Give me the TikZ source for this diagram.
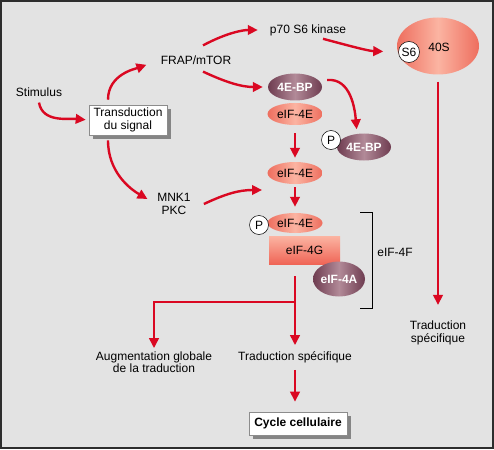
\documentclass[tikz,border=0pt]{standalone}
\usepackage{fontspec}
\setmainfont{Liberation Sans}
\usepackage{tikz}
\usetikzlibrary{positioning,shapes.geometric,arrows.meta,shadows}
\definecolor{bgG}{RGB}{227,227,227}
\definecolor{frameG}{RGB}{45,45,45}
\definecolor{arR}{RGB}{218,8,34}
\definecolor{salD}{RGB}{238,110,94}
\definecolor{salL}{RGB}{251,180,162}
\definecolor{plD}{RGB}{110,60,80}
\definecolor{plL}{RGB}{178,138,152}
\newcommand\lblfont{\fontsize{12}{12.5}\selectfont}

\begin{document}
\begin{tikzpicture}[x=1pt,y=1pt,
   lbl/.style={font=\lblfont,align=center,inner sep=1pt},
   arr/.style={arR,line width=2.4pt,-{Triangle[length=10pt,width=9.5pt]}},
   sbox/.style={lbl,draw=black!45,line width=0.6pt,fill=white,inner sep=3pt,
      drop shadow={shadow xshift=4pt,shadow yshift=-4pt,fill=black!48,opacity=1}},
   salm/.style={ellipse,lbl,inner sep=0pt,minimum width=55pt,minimum height=22pt,
      left color=salD,right color=salD,middle color=salL},
   plum/.style={ellipse,lbl,inner sep=0pt,minimum width=54pt,minimum height=27pt,
      left color=plD,right color=plD,middle color=plL,text=white,font=\lblfont\bfseries},
   pcirc/.style={circle,draw,line width=0.5pt,fill=white,lbl,inner sep=0pt,minimum size=19pt}]
\useasboundingbox (0,0) rectangle (494,-449);
\fill[bgG] (0,0) rectangle (494,-449);
\draw[frameG,line width=2pt] (1,-1) rectangle (493,-448);

%% ---- signal side ----
\node[lbl] (stim) at (39,-92) {Stimulus};
\node[sbox,minimum width=78pt,minimum height=30pt] (trans) at (128,-120) {Transduction\\du signal};
\node[lbl] (frap) at (196,-60) {FRAP/mTOR};
\node[lbl] (mnk) at (174,-204) {MNK1\\PKC};
\node[lbl] (p70) at (308,-30) {p70 S6 kinase};

%% ---- 40S ----
\node[ellipse,minimum width=82pt,minimum height=57pt,inner sep=0pt,
      left color=salD,right color=salD,middle color=salL] (ribo) at (438,-46) {};
\node[lbl] (r40) at (439,-47) {40S};
\node[pcirc,minimum size=21pt] (s6) at (409,-52) {S6};

%% ---- 4E-BP / eIF-4E ----
\node[plum] (bpa) at (295,-87) {4E-BP};
\node[salm] (e4a) at (295,-114) {eIF-4E};
\node[plum] (bpb) at (364,-147) {4E-BP};
\node[pcirc] (pa) at (331,-140) {P};
\node[salm] (e4b) at (295,-173) {eIF-4E};

%% ---- eIF-4F complex ----
\node[salm,minimum height=20pt] (e4c) at (295,-223) {eIF-4E};
\node[pcirc] (pb) at (259,-225) {P};
\node[lbl,minimum width=71pt,minimum height=28pt,inner sep=0pt,
      top color=salL,bottom color=salD!92!red] (g4) at (304.5,-250) {eIF-4G};
\node[plum,minimum width=52pt,minimum height=35pt] (a4) at (339,-279) {eIF-4A};
\draw[line width=0.9pt] (360,-212) -- (372,-212) -- (372,-308) -- (360,-308);
\node[lbl] (e4f) at (395,-252) {eIF-4F};

%% ---- outcomes ----
\node[lbl] (aug) at (154,-362) {Augmentation globale\\de la traduction};
\node[lbl] (trad) at (295,-357) {Traduction spécifique};
\node[lbl] (trdb) at (438,-333) {Traduction\\spécifique};
\node[sbox,font=\lblfont\bfseries,minimum width=98pt,minimum height=23pt,inner sep=1pt] (cyc) at (298,-423.5) {Cycle cellulaire};

\coordinate (join) at (262,-190);
\coordinate (split) at (295,-302);

%% ---- arrows ----
\draw[arr,shorten >=3pt] ([yshift=-5pt]stim.south) to[out=-80,in=175] (trans.west);
\draw[arr,shorten >=14pt] ([xshift=-20pt,yshift=5pt]trans.north) to[out=90,in=200] (frap.west);
\draw[arr,shorten >=10pt] ([xshift=-20pt,yshift=-5pt]trans.south) to[out=-90,in=150] (mnk.west);
\draw[arr,shorten >=11pt] ([xshift=7pt,yshift=9pt]frap.north) to[out=28,in=180] (p70.west);
\draw[arr,shorten >=5pt] ([xshift=7pt,yshift=-6pt]frap.south) to[out=-25,in=180] (bpa.west);
\draw[arr,shorten >=15pt] ([xshift=15pt,yshift=-2pt]p70.south) to[out=-15,in=178] (s6.west);
\draw[arr,shorten >=4pt] ([xshift=5pt,yshift=7pt]bpa.east) to[out=5,in=95] ([xshift=-7pt]bpb.north);
\draw[arr,shorten <=8pt,shorten >=4pt] (e4a.south) -- (e4b.north);
\draw[arr] ([xshift=12pt]mnk.east) to[out=25,in=180] (join);
\draw[arr,shorten <=3pt,shorten >=6pt] (e4b.south) -- (e4c.north);
\draw[arr,shorten <=12pt,shorten >=5pt] ([xshift=-9.5pt]g4.south) -- (trad.north);
\draw[arr,shorten >=2pt] (split) -| (aug.north);
\draw[arr,shorten <=6pt,shorten >=10pt] (trad.south) -- ([xshift=-3pt]cyc.north);
\draw[arr,shorten <=7pt,shorten >=15pt] (ribo.south) -- (trdb.north);
\end{tikzpicture}
\end{document}
